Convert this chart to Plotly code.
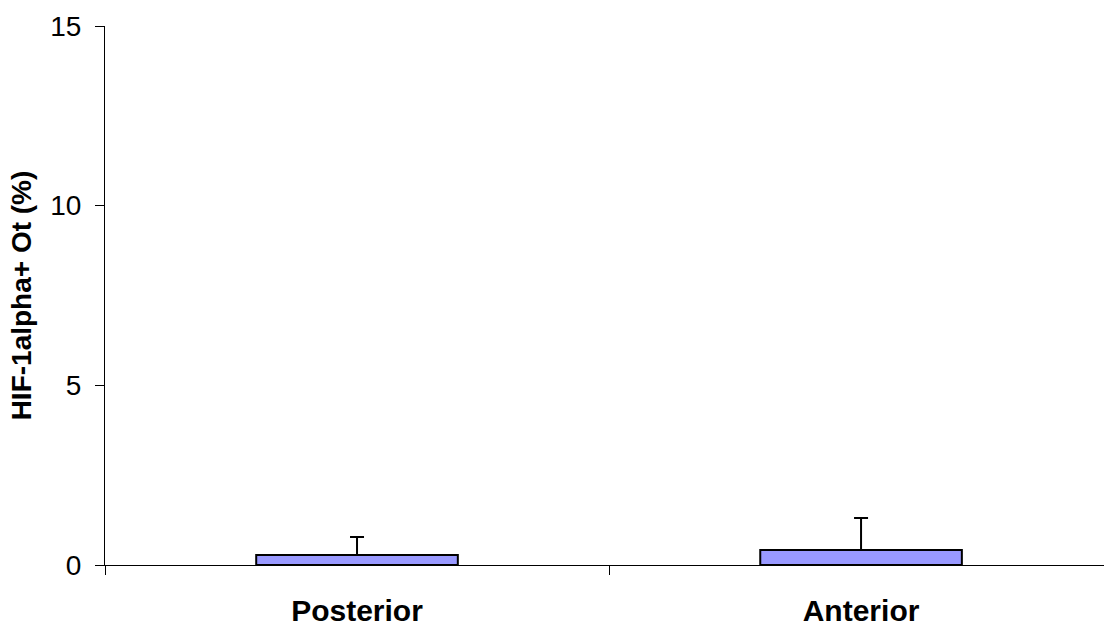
import plotly.graph_objects as go

categories = ["Posterior", "Anterior"]
values = [0.28, 0.42]
errors = [0.50, 0.89]
y_ticks = [0, 5, 10, 15]

fig = go.Figure()
fig.add_trace(go.Bar(
    x=categories, y=values, width=0.40,
    marker=dict(color="#9999FF", line=dict(color="black", width=2)),
    error_y=dict(type="data", symmetric=False, array=errors, arrayminus=[0, 0],
                 color="black", thickness=2, width=7),
))
fig.update_layout(
    width=1104, height=626,
    margin=dict(l=105, r=0, t=26, b=61),
    paper_bgcolor="white", plot_bgcolor="white",
    showlegend=False,
    font=dict(family="Liberation Sans, Arial, sans-serif", color="black"),
)
fig.update_xaxes(
    type="category", range=[-0.5, 1.482],
    showline=True, linecolor="black", linewidth=1,
    ticks="outside", tickson="boundaries", ticklen=9, tickcolor="black",
    tickfont=dict(size=30),
    ticklabelstandoff=19, showgrid=False, zeroline=False,
    tickvals=categories, ticktext=["<b>Posterior</b>", "<b>Anterior</b>"],
)
fig.update_yaxes(
    range=[0, 15], tickvals=y_ticks, showline=True, linecolor="black", linewidth=1,
    ticks="outside", ticklen=9, tickcolor="black",
    tickfont=dict(size=28), ticklabelstandoff=8,
    showgrid=False, zeroline=False,
    title=dict(text="<b>HIF-1alpha+ Ot (%)</b>", font=dict(size=28), standoff=10),
)
fig.write_html("out.html", config={"displayModeBar": False},
               post_script="document.body.style.margin='0';document.body.style.overflow='hidden';")
